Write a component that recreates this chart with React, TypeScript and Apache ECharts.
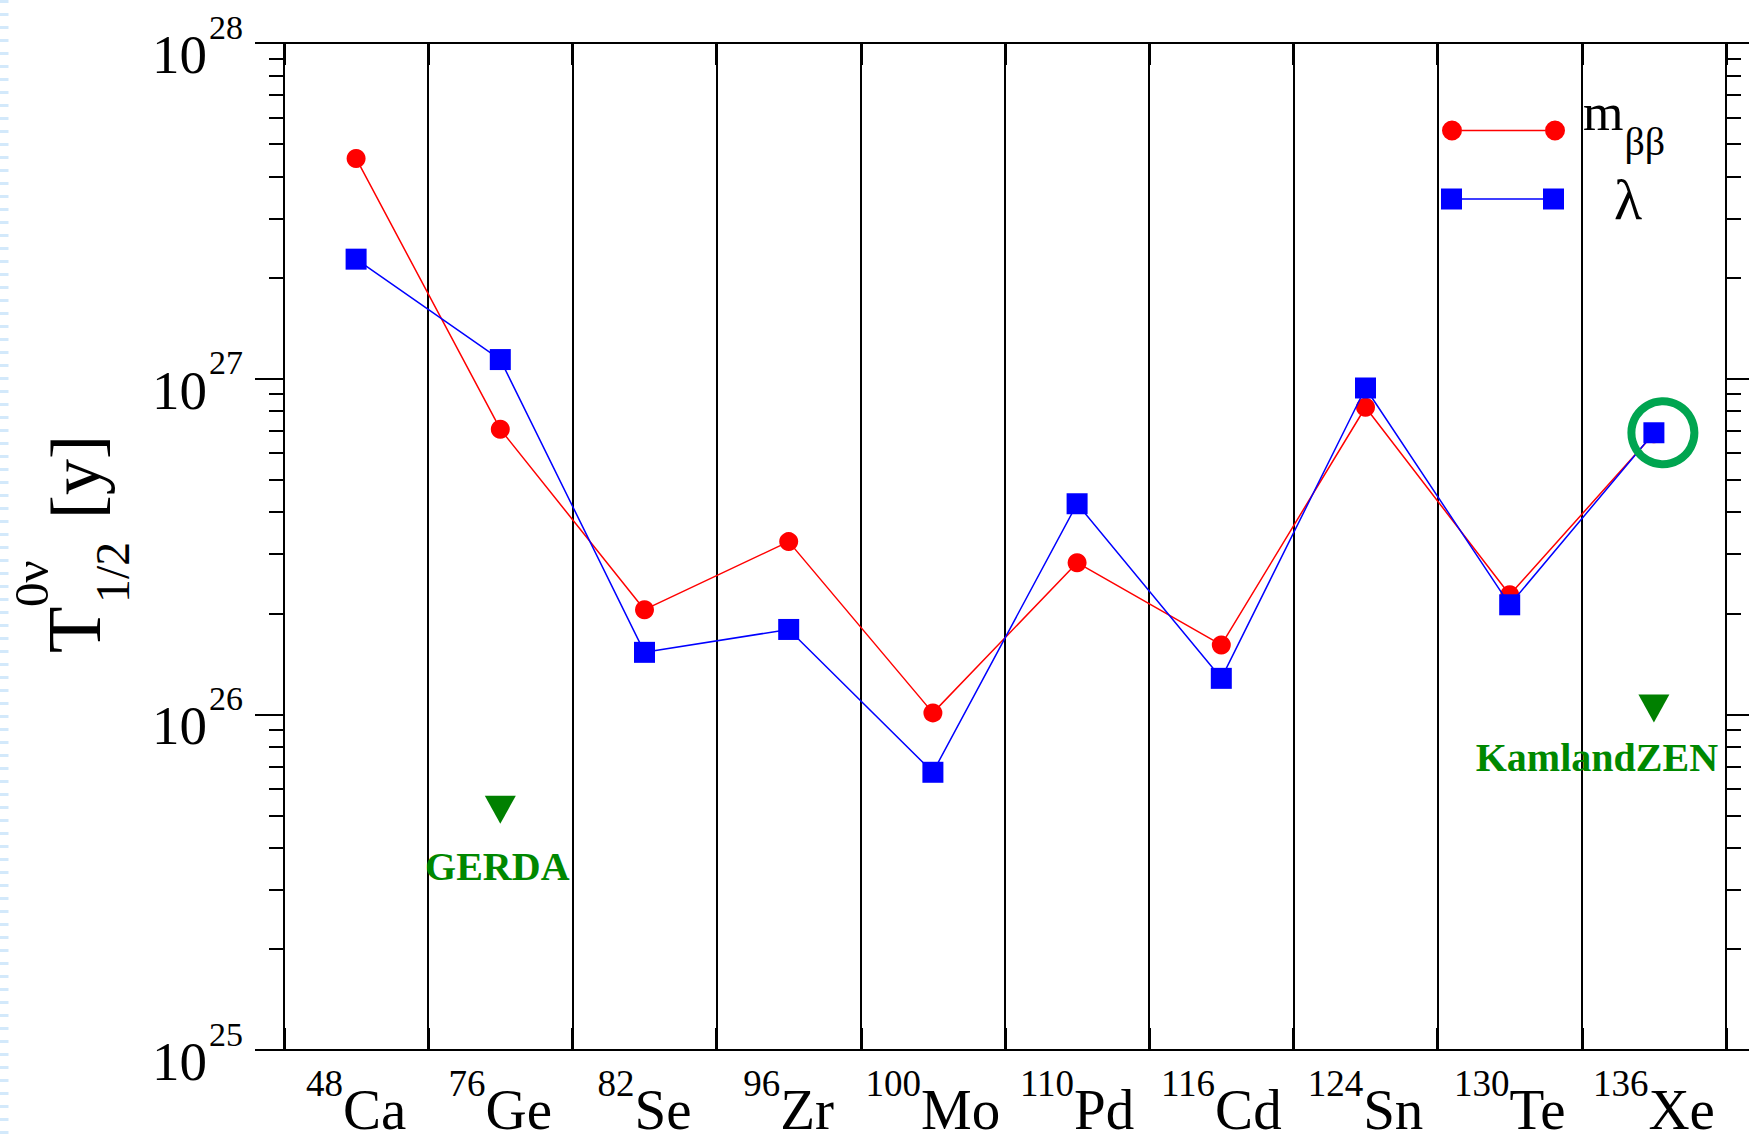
import React, { useEffect, useRef } from 'react';
import * as echarts from 'echarts';

// ---- data ----
const massNumbers = ['48', '76', '82', '96', '100', '110', '116', '124', '130', '136'];
const elements = ['Ca', 'Ge', 'Se', 'Zr', 'Mo', 'Pd', 'Cd', 'Sn', 'Te', 'Xe'];
const mbbHalfLives = [4.53e27, 7.07e26, 2.05e26, 3.27e26, 1.01e26, 2.83e26, 1.61e26, 8.22e26, 2.27e26, 6.85e26];
const lambdaHalfLives = [2.27e27, 1.14e27, 1.53e26, 1.79e26, 6.72e25, 4.24e26, 1.28e26, 9.38e26, 2.12e26, 6.9e26];
const limitExperiments = ['GERDA', 'KamlandZEN'];
const limitIsotopes = ['Ge', 'Xe'];
const limitValues = [5.2e25, 1.04e26];
const highlightIsotope = 'Xe';
const yMin = 1e25;
const yMax = 1e28;
const minorMantissas = [2, 3, 4, 5, 6, 7, 8, 9];
const minorDecades = [1e25, 1e26, 1e27];

const SERIF = 'Liberation Serif, Times New Roman, serif';
const minorTickValues = minorDecades.flatMap((d) => minorMantissas.map((m) => m * d));

const redIcon =
  'path://M0,10A10,10,0,1,1,20,10A10,10,0,1,1,0,10Z M20,9.25L103,9.25L103,10.75L20,10.75Z M103,10A10,10,0,1,1,123,10A10,10,0,1,1,103,10Z';
const blueIcon = 'path://M0,0H21V21H0Z M21,9.75H102V11.25H21Z M102,0H123V21H102Z';

export default function App() {
  const ref = useRef<HTMLDivElement>(null);
  useEffect(() => {
    if (!ref.current) return;
    const chart = echarts.init(ref.current, null, { renderer: 'svg' });

    const black = '#000';
    const yBase = {
      type: 'log',
      logBase: 10,
      min: yMin,
      max: yMax,
      splitLine: { show: false },
      minorTick: { show: false },
      minorSplitLine: { show: false },
    };
    const xBase = {
      type: 'category',
      data: elements,
      boundaryGap: true,
      axisLine: { show: true, onZero: false, lineStyle: { color: black, width: 2 } },
      axisTick: { show: true, inside: true, length: 22, interval: 0, alignWithLabel: false, lineStyle: { color: black, width: 3 } },
    };

    const option: any = {
      animation: false,
      backgroundColor: '#fff',
      textStyle: { fontFamily: SERIF, color: black },
      grid: { left: 284, right: 23, top: 43, bottom: 92, containLabel: false, outerBoundsMode: 'none' },
      legend: [
        {
          show: true,
          data: [{ name: 'mββ', icon: redIcon }],
          left: 1442,
          top: 86,
          padding: 0,
          itemWidth: 123,
          itemHeight: 21,
          selectedMode: false,
          formatter: () => '{m|m}{b|ββ}',
          textStyle: {
            color: black,
            rich: {
              m: { fontSize: 52, fontFamily: SERIF, color: black, lineHeight: 60, padding: [0, 0, 37, 13] },
              b: { fontSize: 40, fontFamily: SERIF, color: black, lineHeight: 60, padding: [21, 0, 0, 1] },
            },
          },
        },
        {
          show: true,
          data: [{ name: 'λ', icon: blueIcon }],
          left: 1441,
          top: 170,
          padding: 0,
          itemWidth: 123,
          itemHeight: 21,
          selectedMode: false,
          formatter: () => '{l|λ}',
          textStyle: {
            color: black,
            rich: { l: { fontSize: 58, fontFamily: SERIF, color: black, lineHeight: 60, padding: [0, 0, 0, 45] } },
          },
        },
      ],
      xAxis: [
        {
          ...xBase,
          position: 'bottom',
          axisLabel: {
            show: true,
            interval: 0,
            margin: 31,
            color: black,
            formatter: (v: string, i: number) => `{s|${massNumbers[i]}}{e|${v}}`,
            rich: {
              s: { fontSize: 37, fontFamily: SERIF, color: black, lineHeight: 56, padding: [0, 0, 52, 0] },
              e: { fontSize: 57, fontFamily: SERIF, color: black, lineHeight: 56 },
            },
          },
          splitLine: { show: true, interval: 0, lineStyle: { color: black, width: 2 } },
        },
        {
          ...xBase,
          position: 'top',
          axisLabel: { show: false },
          splitLine: { show: false },
        },
      ],
      yAxis: [
        {
          ...yBase,
          position: 'left',
          axisLine: { show: true, onZero: false, lineStyle: { color: black, width: 2 } },
          axisTick: { show: true, inside: false, length: 29, lineStyle: { color: black, width: 2 } },
          axisLabel: {
            show: true,
            margin: 41,
            color: black,
            formatter: (v: number) => `{b|10}{s|${Math.round(Math.log10(v))}}`,
            rich: {
              b: { fontSize: 55, fontFamily: SERIF, color: black, lineHeight: 60, padding: [23, 0, 0, 0] },
              s: { fontSize: 34, fontFamily: SERIF, color: black, lineHeight: 60, padding: [0, 0, 32, 2] },
            },
          },
        },
        {
          ...yBase,
          position: 'left',
          axisLine: { show: false, onZero: false },
          axisTick: { show: true, inside: false, length: 15, customValues: minorTickValues, lineStyle: { color: black, width: 2 } },
          axisLabel: { show: false },
        },
        {
          ...yBase,
          position: 'right',
          axisLine: { show: true, onZero: false, lineStyle: { color: black, width: 2 } },
          axisTick: { show: true, inside: false, length: 29, lineStyle: { color: black, width: 2 } },
          axisLabel: { show: false },
        },
        {
          ...yBase,
          position: 'right',
          axisLine: { show: false, onZero: false },
          axisTick: { show: true, inside: false, length: 15, customValues: minorTickValues, lineStyle: { color: black, width: 2 } },
          axisLabel: { show: false },
        },
      ],
      series: [
        {
          name: 'mββ',
          type: 'line',
          xAxisIndex: 0,
          yAxisIndex: 0,
          data: mbbHalfLives,
          symbol: 'circle',
          symbolSize: 19,
          showAllSymbol: true,
          itemStyle: { color: '#ff0000', opacity: 1 },
          lineStyle: { color: '#ff0000', width: 1.5 },
          emphasis: { disabled: true },
          z: 3,
        },
        {
          name: 'λ',
          type: 'line',
          xAxisIndex: 0,
          yAxisIndex: 0,
          data: lambdaHalfLives,
          symbol: 'rect',
          symbolSize: 21,
          showAllSymbol: true,
          itemStyle: { color: '#0000ff', opacity: 1 },
          lineStyle: { color: '#0000ff', width: 1.5 },
          emphasis: { disabled: true },
          z: 4,
        },
        {
          name: 'limits',
          type: 'scatter',
          xAxisIndex: 0,
          yAxisIndex: 0,
          symbol: 'triangle',
          symbolRotate: 180,
          symbolSize: [31, 28],
          itemStyle: { color: '#008000', opacity: 1 },
          emphasis: { disabled: true },
          z: 5,
          data: limitIsotopes.map((iso, i) => ({
            name: limitExperiments[i],
            value: [iso, limitValues[i]],
            label: {
              show: true,
              position: 'bottom',
              distance: i === 0 ? 23 : 15,
              offset: i === 0 ? [-3, 0] : [-57, 0],
              formatter: '{b}',
              color: '#008800',
              opacity: 1,
              fontFamily: SERIF,
              fontWeight: 'bold',
              fontSize: 40,
            },
          })),
        },
        {
          name: 'highlight',
          type: 'scatter',
          xAxisIndex: 0,
          yAxisIndex: 0,
          symbol: 'circle',
          symbolSize: 63,
          symbolOffset: [9, 0],
          silent: true,
          itemStyle: { color: 'rgba(0,0,0,0)', borderColor: '#00a550', borderWidth: 8, opacity: 1 },
          emphasis: { disabled: true },
          z: 6,
          data: [[highlightIsotope, lambdaHalfLives[elements.indexOf(highlightIsotope)]]],
        },
      ],
      graphic: [
        {
          type: 'line',
          silent: true,
          shape: { x1: 4, y1: 0, x2: 4, y2: 1142 },
          style: { stroke: '#d3e9fb', lineWidth: 9, lineDash: [3, 10] },
        },
        {
          type: 'group',
          x: 84,
          y: 548,
          rotation: Math.PI / 2,
          children: [
            { type: 'text', x: -105, y: -9.6, style: { text: 'T', fontSize: 76, fontFamily: SERIF, fill: black, align: 'left', verticalAlign: 'middle' } },
            { type: 'text', x: -59, y: -52.5, style: { text: '0ν', fontSize: 49, fontFamily: SERIF, fill: black, align: 'left', verticalAlign: 'middle' } },
            { type: 'text', x: -55, y: 28.8, style: { text: '1/2', fontSize: 48, fontFamily: SERIF, fill: black, align: 'left', verticalAlign: 'middle' } },
            { type: 'text', x: 29, y: -8.3, style: { text: '[y]', fontSize: 72, fontFamily: SERIF, fill: black, align: 'left', verticalAlign: 'middle' } },
          ],
        },
      ],
    };

    chart.setOption(option);
    return () => chart.dispose();
  }, []);

  return (
    <div
      ref={ref}
      style={{ position: 'fixed', left: 0, top: 0, width: 1749, height: 1142, background: '#fff' }}
    />
  );
}
